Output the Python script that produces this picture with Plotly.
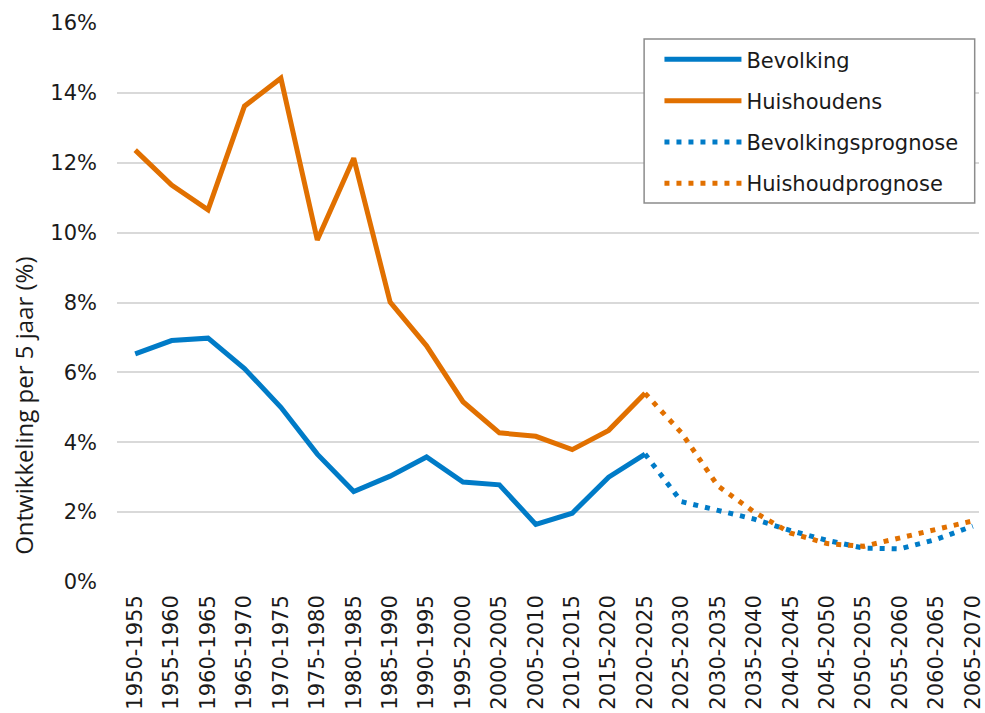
import plotly.graph_objects as go

categories = ["1950-1955", "1955-1960", "1960-1965", "1965-1970", "1970-1975", "1975-1980",
              "1980-1985", "1985-1990", "1990-1995", "1995-2000", "2000-2005", "2005-2010",
              "2010-2015", "2015-2020", "2020-2025", "2025-2030", "2030-2035", "2035-2040",
              "2040-2045", "2045-2050", "2050-2055", "2055-2060", "2060-2065", "2065-2070"]

bevolking = [6.53, 6.91, 6.98, 6.11, 5.00, 3.66, 2.59, 3.03, 3.58, 2.86, 2.78, 1.65, 1.97, 3.00, 3.66]
huishoudens = [12.36, 11.36, 10.65, 13.62, 14.42, 9.79, 12.13, 8.01, 6.76, 5.16, 4.27, 4.17, 3.79, 4.34, 5.40]
bevolkingsprognose = [3.66, 2.30, 2.05, 1.80, 1.47, 1.19, 0.97, 0.95, 1.22, 1.60]
huishoudprognose = [5.40, 4.27, 2.75, 2.00, 1.40, 1.10, 1.02, 1.26, 1.48, 1.75]

y_ticks = [0, 2, 4, 6, 8, 10, 12, 14, 16]

BLUE = "#007BC7"
ORANGE = "#E17000"
FONT = "DejaVu Sans"

hist_x = categories[:len(bevolking)]
prog_x = categories[len(bevolking) - 1:]

fig = go.Figure()
fig.add_trace(go.Scatter(x=hist_x, y=bevolking, mode="lines", name="Bevolking", legendgroup="a",
                         line=dict(color=BLUE, width=5)))
fig.add_trace(go.Scatter(x=hist_x, y=huishoudens, mode="lines", name="Huishoudens", legendgroup="b",
                         line=dict(color=ORANGE, width=5)))
fig.add_trace(go.Scatter(x=prog_x, y=bevolkingsprognose, mode="lines", name="Bevolkingsprognose",
                         legendgroup="c", line=dict(color=BLUE, width=5, dash="5px,7px")))
fig.add_trace(go.Scatter(x=prog_x, y=huishoudprognose, mode="lines", name="Huishoudprognose",
                         legendgroup="d", line=dict(color=ORANGE, width=5, dash="5px,7px")))

fig.update_layout(
    width=985, height=713,
    margin=dict(l=117, r=0, t=23, b=131),
    plot_bgcolor="white", paper_bgcolor="white",
    font=dict(family=FONT, size=21, color="#1a1a1a"),
    showlegend=True,
    legend=dict(x=0.6293, y=0.971, xanchor="left", yanchor="top",
                borderwidth=0, bgcolor="rgba(0,0,0,0)",
                font=dict(family=FONT, size=21, color="#1a1a1a"),
                itemwidth=77, tracegroupgap=11, traceorder="grouped"),
    xaxis=dict(type="category", categoryorder="array", categoryarray=categories,
               range=[-0.5, 23.17], tickangle=-90, showgrid=False, showline=False,
               ticks="", tickfont=dict(family=FONT, size=21), zeroline=False,
               ticklabelstandoff=8),
    yaxis=dict(range=[0, 16], tickvals=y_ticks, ticktext=[f"{v}%" for v in y_ticks],
               showgrid=True, gridcolor="#d9d9d9", gridwidth=2, zeroline=False,
               showline=False, ticks="", ticklen=0, tickfont=dict(family=FONT, size=21),
               ticklabelstandoff=19),
    shapes=[dict(type="rect", xref="paper", yref="paper", x0=0.6115, x1=0.995,
                 y0=0.678, y1=0.9714, layer="above",
                 line=dict(color="#8c8c8c", width=1.5), fillcolor="white")],
    annotations=[dict(text="Ontwikkeling per 5 jaar (%)", xref="paper", yref="paper",
                      x=-0.108, y=0.315, textangle=-90, showarrow=False,
                      xanchor="center", yanchor="middle",
                      font=dict(family="Open Sans", size=24, color="#1a1a1a"))],
)

fig.write_html("out.html")
